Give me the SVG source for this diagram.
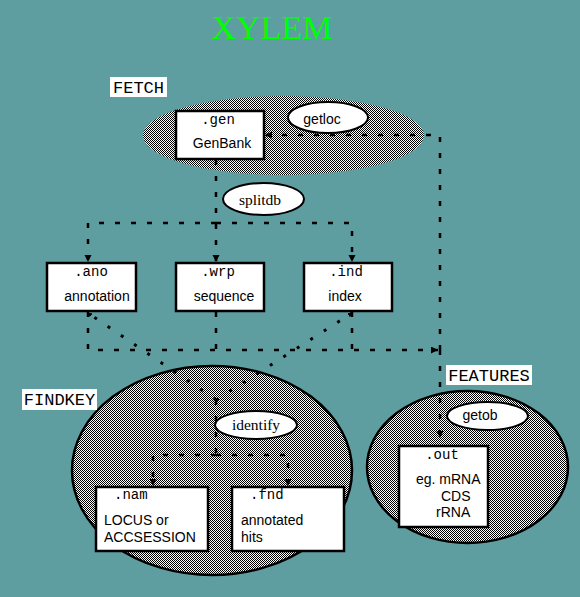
<svg xmlns="http://www.w3.org/2000/svg" width="580" height="597" viewBox="0 0 580 597">
<style>
.bg{fill:#5F9EA0}
.box{fill:#fff;stroke:#000;stroke-width:2.5}
.proc{fill:#fff;stroke:#000;stroke-width:2}
.group{fill:url(#dither)}
.groupo{fill:url(#dither);stroke:#000;stroke-width:2.5}
.lab{fill:#fff}
.mono{font-family:"Liberation Mono","Courier New",monospace;font-size:14px;fill:#000}
.labt{font-family:"Liberation Mono","Courier New",monospace;font-size:17px;fill:#000}
.sans{font-family:"Liberation Sans",Arial,sans-serif;font-size:14px;fill:#000}
.serif{font-family:"Liberation Serif","Times New Roman",serif;font-size:15.5px;fill:#000}
.title{font-family:"Liberation Serif","Times New Roman",serif;font-size:34px;fill:#00FF00}
.dash{fill:none;stroke:#000;stroke-width:2.5;stroke-dasharray:5 11}
.dot{fill:none;stroke:#000;stroke-width:3;stroke-dasharray:3 13}
</style>
<defs>
<pattern id="dither" width="2" height="2" patternUnits="userSpaceOnUse">
<rect width="2" height="2" fill="#fff" shape-rendering="crispEdges"/>
<rect width="1" height="1" fill="#000" shape-rendering="crispEdges"/>
<rect x="1" y="1" width="1" height="1" fill="#000" shape-rendering="crispEdges"/>
</pattern>
<marker id="arr" markerUnits="userSpaceOnUse" markerWidth="10" markerHeight="10" refX="7" refY="3.5" orient="auto">
<path d="M0,0 L7,3.5 L0,7 Z" fill="#000"/>
</marker>
<marker id="tip" markerUnits="userSpaceOnUse" markerWidth="6" markerHeight="6" refX="4" refY="2.5" orient="auto">
<path d="M0,0 L4,2.5 L0,5 Z" fill="#000"/>
</marker>
</defs>
<rect class="bg" x="0" y="0" width="580" height="597"/>
<text class="title" x="272" y="39" text-anchor="middle">XYLEM</text>

<g id="fetch-group">
<ellipse class="group" cx="283.5" cy="135.5" rx="140.5" ry="39.5"/>
<rect class="lab" x="110" y="77" width="57" height="20"/>
<text class="labt" x="138.5" y="93" text-anchor="middle">FETCH</text>
</g>
<g id="findkey-group">
<ellipse class="groupo" cx="212" cy="470.5" rx="140" ry="104.5"/>
<rect class="lab" x="22" y="389" width="75" height="21"/>
<text class="labt" x="59.5" y="405" text-anchor="middle">FINDKEY</text>
</g>
<g id="features-group">
<ellipse class="groupo" cx="467.5" cy="467" rx="100.5" ry="76"/>
<rect class="lab" x="446" y="365" width="86" height="20"/>
<text class="labt" x="489" y="381" text-anchor="middle">FEATURES</text>
</g>

<g id="connectors">
<path class="dash" d="M216,160 V262" marker-end="url(#arr)"/>
<path class="dash" d="M216,223 H88 V262" marker-end="url(#arr)"/>
<path class="dash" d="M216,223 H352 V262" marker-end="url(#arr)"/>
<path class="dash" d="M88,312 V350 H438" marker-end="url(#arr)"/>
<path class="dash" d="M216,312 V350"/>
<path class="dash" d="M352,312 V350"/>
<path class="dash" d="M440,350 V135 H265" marker-end="url(#arr)"/>
<path class="dash" d="M440,350 V438" marker-end="url(#arr)"/>
<path class="dot" d="M216,400 L88,313" marker-end="url(#tip)"/>
<path class="dot" d="M216,400 L352,313" marker-end="url(#tip)"/>
<path class="dash" d="M216,400 V455"/>
<path class="dash" d="M216,455 H153 V486" marker-end="url(#arr)"/>
<path class="dash" d="M216,455 H288 V486" marker-end="url(#arr)"/>
</g>

<g id="getloc">
<ellipse class="proc" cx="328" cy="117.5" rx="40" ry="15.5"/>
<text class="sans" x="322" y="124" text-anchor="middle">getloc</text>
</g>
<g id="splitdb">
<ellipse class="proc" cx="263.5" cy="199" rx="40.5" ry="16"/>
<text class="serif" x="260" y="205" text-anchor="middle">splitdb</text>
</g>
<g id="identify">
<ellipse class="proc" cx="256" cy="425" rx="41" ry="14"/>
<text class="serif" x="256" y="430" text-anchor="middle">identify</text>
</g>
<g id="getob">
<ellipse class="proc" cx="487.5" cy="416" rx="40.5" ry="14"/>
<text class="sans" x="480" y="420" text-anchor="middle">getob</text>
</g>

<g id="gen">
<rect class="box" x="176" y="111" width="88" height="48"/>
<text class="mono" x="218" y="124" text-anchor="middle">.gen</text>
<text class="sans" x="222" y="148" text-anchor="middle">GenBank</text>
</g>
<g id="ano">
<rect class="box" x="47" y="263" width="89" height="48"/>
<text class="mono" x="91" y="276" text-anchor="middle">.ano</text>
<text class="sans" x="97" y="301" text-anchor="middle">annotation</text>
</g>
<g id="wrp">
<rect class="box" x="176" y="263" width="88" height="48"/>
<text class="mono" x="218" y="276" text-anchor="middle">.wrp</text>
<text class="sans" x="224" y="301" text-anchor="middle">sequence</text>
</g>
<g id="ind">
<rect class="box" x="304" y="263" width="88" height="48"/>
<text class="mono" x="346" y="276" text-anchor="middle">.ind</text>
<text class="sans" x="345" y="301" text-anchor="middle">index</text>
</g>
<g id="nam">
<rect class="box" x="96" y="487" width="112" height="64"/>
<text class="mono" x="114" y="499">.nam</text>
<text class="sans" x="104" y="525">LOCUS or</text>
<text class="sans" x="104" y="542">ACCSESSION</text>
</g>
<g id="fnd">
<rect class="box" x="232" y="487" width="112" height="64"/>
<text class="mono" x="250" y="499">.fnd</text>
<text class="sans" x="241" y="525">annotated</text>
<text class="sans" x="241" y="542">hits</text>
</g>
<g id="out">
<rect class="box" x="399" y="446" width="89" height="81"/>
<text class="mono" x="442" y="459" text-anchor="middle">.out</text>
<text class="sans" x="416" y="484">eg. mRNA</text>
<text class="sans" x="441" y="501">CDS</text>
<text class="sans" x="436" y="517">rRNA</text>
</g>
</svg>
